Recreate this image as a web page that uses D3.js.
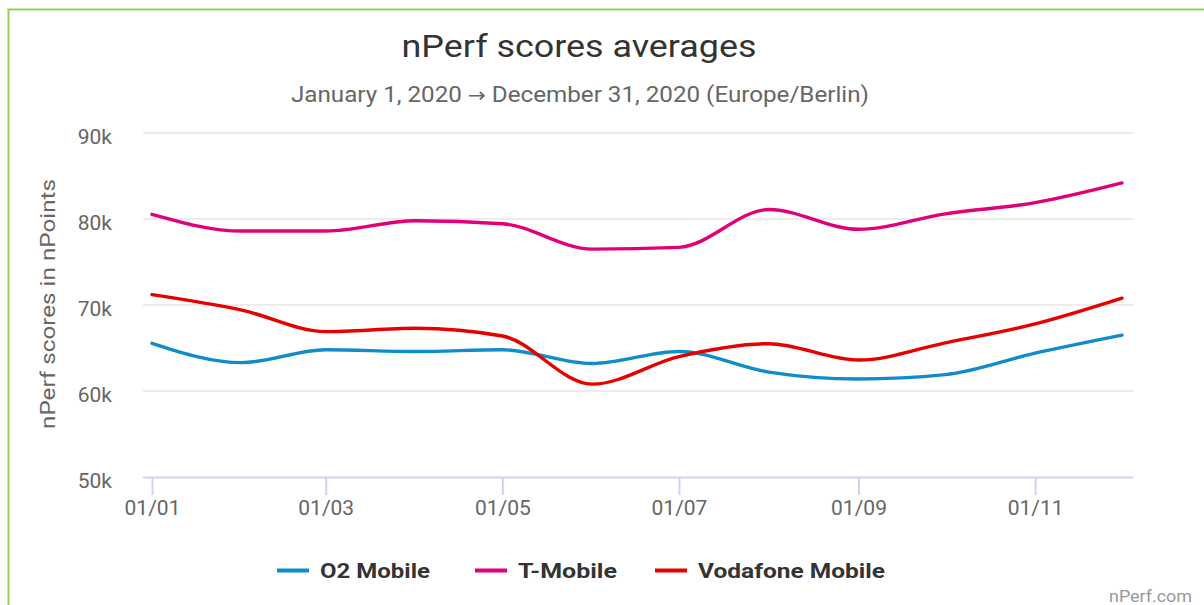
<!DOCTYPE html>
<html lang="en">
<head>
    <meta charset="UTF-8">
    <title>nPerf scores averages</title>
    <script src="https://d3js.org/d3.v7.min.js"></script>
    <style>
        body { margin: 0; background: #fff; }
        svg { display: block; font-family: Roboto, "Noto Sans", sans-serif; }
    </style>
</head>
<body>
 <div id="mainbody"></div>
 <script>

    // monthly averages, 2020
    const months = ["2020-01-01","2020-02-01","2020-03-01","2020-04-01","2020-05-01","2020-06-01",
                    "2020-07-01","2020-08-01","2020-09-01","2020-10-01","2020-11-01","2020-12-01"];
    const o2Mobile = [65550, 63300, 64800, 64600, 64800, 63200, 64600, 62200, 61400, 61900, 64400, 66500];
    const tMobile = [80550, 78600, 78600, 79800, 79450, 76500, 76700, 81100, 78800, 80600, 81900, 84200];
    const vodafoneMobile = [71200, 69400, 66900, 67300, 66400, 60800, 64000, 65500, 63600, 65600, 67800, 70800];

    const seriesNames = ["O2 Mobile", "T-Mobile", "Vodafone Mobile"];
    const seriesColors = ["#118ccb", "#e2007a", "#e60000"];
    const yTicks = [50000, 60000, 70000, 80000, 90000];
    const xTicks = ["2020-01-01","2020-03-01","2020-05-01","2020-07-01","2020-09-01","2020-11-01"];

    const W = 1204, H = 605;
    const parse = d3.timeParse("%Y-%m-%d");
    const dates = months.map(parse);

    const series = [o2Mobile, tMobile, vodafoneMobile].map((vals, i) => ({
        name: seriesNames[i],
        color: seriesColors[i],
        values: vals.map((v, j) => ({date: dates[j], value: v}))
    }));

    const svg = d3.select("#mainbody").append("svg")
        .attr("width", W)
        .attr("height", H);

    // green frame (runs off the right/bottom edge)
    svg.append("rect")
        .attr("x", 8.5).attr("y", 9.5)
        .attr("width", W + 20).attr("height", H + 20)
        .attr("fill", "none")
        .attr("stroke", "#92d25a")
        .attr("stroke-width", 2);

    const plotLeft = 143, plotRight = 1133;
    const x = d3.scaleTime()
        .domain([dates[0], dates[dates.length - 1]])
        .range([152, 1122]);
    const y = d3.scaleLinear()
        .domain([50000, 90000])
        .range([477, 133]);

    // title + subtitle (the original font runs wider than Roboto, so stretch to fit)
    svg.append("text")
        .attr("x", 579).attr("y", 57)
        .attr("text-anchor", "middle")
        .attr("font-size", 31)
        .attr("fill", "#333")
        .attr("textLength", 355)
        .attr("lengthAdjust", "spacingAndGlyphs")
        .text("nPerf scores averages");
    const sub = svg.append("text")
        .attr("x", 580).attr("y", 102)
        .attr("text-anchor", "middle")
        .attr("font-size", 22.5)
        .attr("fill", "#666")
        .attr("textLength", 578)
        .attr("lengthAdjust", "spacingAndGlyphs");
    sub.append("tspan").text("January 1, 2020 ");
    sub.append("tspan").attr("font-family", "DejaVu Sans").attr("font-size", 20).text("→");
    sub.append("tspan").text(" December 31, 2020 (Europe/Berlin)");

    // gridlines
    svg.append("g").selectAll("line")
        .data(yTicks.slice(1))
        .enter().append("line")
        .attr("x1", plotLeft).attr("x2", plotRight)
        .attr("y1", d => y(d)).attr("y2", d => y(d))
        .attr("stroke", "#e6e6e6")
        .attr("stroke-width", 1.5);

    // y axis labels
    const yAxis = svg.append("g")
        .attr("transform", `translate(${plotLeft},0)`)
        .call(d3.axisLeft(y).tickValues(yTicks).tickSize(0).tickPadding(31)
            .tickFormat(d => (d / 1000) + "k"));
    yAxis.select(".domain").remove();
    yAxis.selectAll("text")
        .attr("font-size", 21)
        .attr("fill", "#666")
        .attr("font-family", "Roboto, sans-serif")
        .attr("dy", "0.48em");

    svg.append("text")
        .attr("transform", `translate(55,304) rotate(-90)`)
        .attr("text-anchor", "middle")
        .attr("font-size", 20)
        .attr("fill", "#666")
        .attr("textLength", 250)
        .attr("lengthAdjust", "spacingAndGlyphs")
        .text("nPerf scores in nPoints");

    // x axis
    const xAxis = svg.append("g")
        .attr("transform", `translate(0,${y(50000)})`)
        .call(d3.axisBottom(x).tickValues(xTicks.map(parse)).tickSize(18).tickPadding(5)
            .tickFormat(d3.timeFormat("%d/%m")));
    xAxis.select(".domain")
        .attr("d", `M${plotLeft},0.5H${plotRight}`)
        .attr("stroke", "#ccd6eb")
        .attr("stroke-width", 2);
    xAxis.selectAll(".tick line")
        .attr("stroke", "#ccd6eb")
        .attr("stroke-width", 2);
    xAxis.selectAll(".tick text")
        .attr("font-size", 21)
        .attr("fill", "#666")
        .attr("font-family", "Roboto, sans-serif");

    // lines
    const line = d3.line()
        .x(d => x(d.date))
        .y(d => y(d.value))
        .curve(d3.curveMonotoneX);

    svg.append("g").selectAll("path")
        .data(series)
        .enter().append("path")
        .attr("d", d => line(d.values))
        .attr("fill", "none")
        .attr("stroke", d => d.color)
        .attr("stroke-width", 3.4)
        .attr("stroke-linecap", "round")
        .attr("stroke-linejoin", "round");

    // legend
    const legendX = [277, 475, 655];
    const legendTextW = [110, 99, 187];
    const legend = svg.append("g").selectAll("g")
        .data(series)
        .enter().append("g")
        .attr("transform", (d, i) => `translate(${legendX[i]},570.5)`);
    legend.append("line")
        .attr("x1", 0).attr("x2", 32)
        .attr("stroke", d => d.color)
        .attr("stroke-width", 4);
    legend.append("text")
        .attr("x", 43).attr("y", 7.5)
        .attr("font-size", 21)
        .attr("font-weight", "bold")
        .attr("fill", "#333")
        .attr("textLength", (d, i) => legendTextW[i])
        .attr("lengthAdjust", "spacingAndGlyphs")
        .text(d => d.name);

    svg.append("text")
        .attr("x", 1109).attr("y", 602)
        .attr("font-size", 16)
        .attr("fill", "#999")
        .attr("textLength", 83)
        .attr("lengthAdjust", "spacingAndGlyphs")
        .text("nPerf.com");

 </script>
</body>
</html>
